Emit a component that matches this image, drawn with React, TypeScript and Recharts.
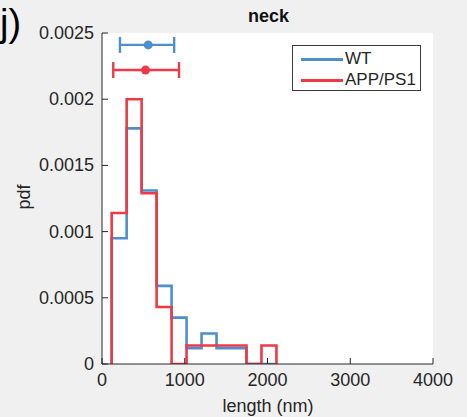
import React from "react"
import { ComposedChart, Line, Scatter, ErrorBar, XAxis, YAxis, ReferenceArea } from "recharts"

// histogram bin edges (nm) and pdf values
const binEdges = [117, 298, 479, 660, 841, 1022, 1203, 1384, 1565, 1746, 1927, 2108]
const wtPdf = [0.00095, 0.00178, 0.00131, 0.00059, 0.00035, 0.00012, 0.00023, 0.00012, 0.00012, 0, 0]
const appPdf = [0.00114, 0.002, 0.00129, 0.00043, 0, 0.00014, 0.00014, 0.00014, 0.00014, 0, 0.00014]

// mean +/- spread markers above the histograms
const wtMean = [{ x: 558, y: 0.00241, err: [341, 314] }]
const appMean = [{ x: 526, y: 0.00222, err: [390, 405] }]

const xTicks = [0, 1000, 2000, 3000, 4000]
const yTicks = [0, 0.0005, 0.001, 0.0015, 0.002, 0.0025]

const BLUE = "#4d8fcc"
const RED = "#ee3a46"
const AXIS = "#262626"
const FONT = "'Liberation Sans', Arial, sans-serif"

// stairs outline: rise from 0 at the first edge, drop back to 0 at the last one
const toStairs = (values: number[]) => [
  { x: binEdges[0], y: 0 },
  ...values.map((v, i) => ({ x: binEdges[i], y: v })),
  { x: binEdges[binEdges.length - 1], y: 0 },
]

const wtStairs = toStairs(wtPdf)
const appStairs = toStairs(appPdf)

const YTick = (props: any) => {
  const { x, y, payload } = props
  return (
    <g>
      <line x1={x + 8} x2={x + 14} y1={y} y2={y} stroke={AXIS} strokeWidth={1} />
      <text x={x} y={y} dy={6} textAnchor="end" fill={AXIS} fontSize={18} fontFamily={FONT}>
        {String(payload.value)}
      </text>
    </g>
  )
}

const XTick = (props: any) => {
  const { x, y, payload } = props
  return (
    <g>
      <line x1={x} x2={x} y1={y - 8} y2={y - 14} stroke={AXIS} strokeWidth={1} />
      <text x={x} y={y} dy={14} textAnchor="middle" fill={AXIS} fontSize={18} fontFamily={FONT}>
        {String(payload.value)}
      </text>
    </g>
  )
}

const legendItems = [
  { name: "WT", color: BLUE, top: 4 },
  { name: "APP/PS1", color: RED, top: 25 },
]

const LegendBox = () => (
  <div
    style={{
      position: "absolute",
      left: 292,
      top: 45,
      width: 129,
      height: 46,
      background: "#fff",
      border: "1px solid #3a3a3a",
      boxSizing: "border-box",
      fontFamily: FONT,
      fontSize: 17,
      color: AXIS,
    }}
  >
    {legendItems.map((item) => (
      <div key={item.name} style={{ position: "absolute", left: 8, top: item.top, display: "flex", alignItems: "center", height: 18 }}>
        <div style={{ width: 42, height: 3, background: item.color, marginRight: 2 }} />
        <span>{item.name}</span>
      </div>
    ))}
  </div>
)

export default function App() {
  return (
    <div style={{ position: "absolute", left: 0, top: 0, width: 467, height: 417, background: "#f0f0f0", overflow: "hidden" }}>
      <ComposedChart width={467} height={417} margin={{ top: 33, right: 34, bottom: 0, left: 0 }}>
        <XAxis
          dataKey="x"
          type="number"
          domain={[0, 4000]}
          ticks={xTicks}
          interval={0}
          tickSize={0}
          tickMargin={8}
          tick={<XTick />}
          tickLine={false}
          axisLine={{ stroke: AXIS }}
          height={53}
          allowDataOverflow
        />
        <YAxis
          dataKey="y"
          type="number"
          domain={[0, 0.0025]}
          ticks={yTicks}
          interval={0}
          tickSize={0}
          tickMargin={8}
          tick={<YTick />}
          tickLine={false}
          axisLine={{ stroke: AXIS }}
          width={102}
          allowDataOverflow
        />
        <ReferenceArea x1={0} x2={4000} y1={0} y2={0.0025} fill="#ffffff" fillOpacity={1} stroke="none" ifOverflow="visible" />
        <Line data={wtStairs} dataKey="y" type="stepAfter" stroke={BLUE} strokeWidth={2.6} dot={false} isAnimationActive={false} name="WT" />
        <Line data={appStairs} dataKey="y" type="stepAfter" stroke={RED} strokeWidth={2.6} dot={false} isAnimationActive={false} name="APP/PS1" />
        <Scatter data={wtMean} dataKey="y" fill={BLUE} isAnimationActive={false} legendType="none">
          <ErrorBar dataKey="err" direction="x" width={8} stroke={BLUE} strokeWidth={2.4} isAnimationActive={false} />
        </Scatter>
        <Scatter data={appMean} dataKey="y" fill={RED} isAnimationActive={false} legendType="none">
          <ErrorBar dataKey="err" direction="x" width={8} stroke={RED} strokeWidth={2.4} isAnimationActive={false} />
        </Scatter>
      </ComposedChart>
      <LegendBox />
      <div style={{ position: "absolute", left: 0, top: 0, fontFamily: FONT, fontSize: 38, color: "#000", lineHeight: "46px" }}>j)</div>
      <div style={{ position: "absolute", left: 248, top: 6, fontFamily: FONT, fontSize: 18, fontWeight: "bold", color: "#111" }}>neck</div>
      <div
        style={{
          position: "absolute",
          left: 24,
          top: 197,
          transform: "translate(-50%, -50%) rotate(-90deg)",
          fontFamily: FONT,
          fontSize: 18,
          color: AXIS,
        }}
      >
        pdf
      </div>
      <div
        style={{
          position: "absolute",
          left: 268,
          top: 396,
          transform: "translateX(-50%)",
          fontFamily: FONT,
          fontSize: 18,
          color: AXIS,
          whiteSpace: "nowrap",
        }}
      >
        length (nm)
      </div>
    </div>
  )
}
